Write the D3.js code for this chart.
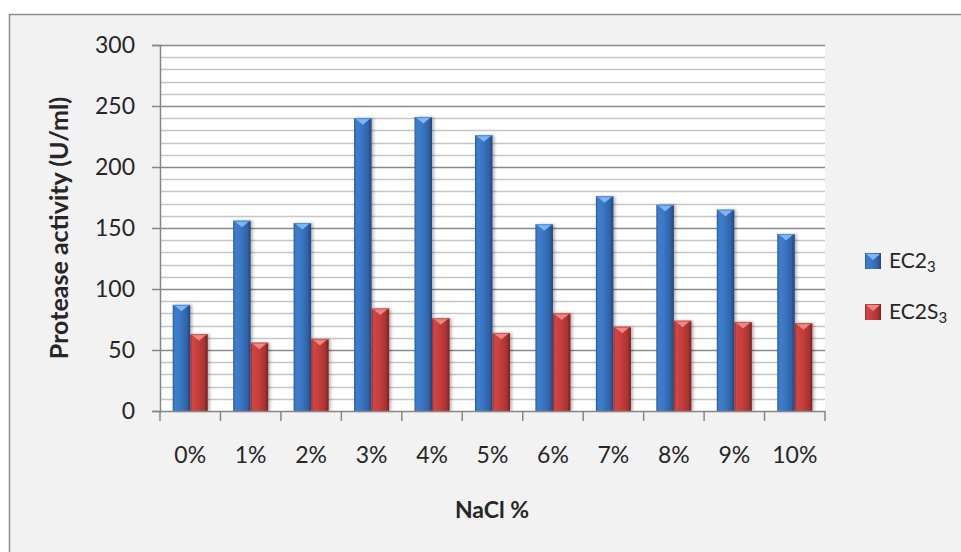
<!DOCTYPE html>
<html>
<head>
<meta charset="utf-8">
<script src="https://cdn.jsdelivr.net/npm/d3@7"></script>
<style>
  html, body { margin: 0; padding: 0; background: #ffffff; }
  svg { display: block; }
  text { font-family: Lato, "Open Sans", sans-serif; fill: #262626; }
</style>
</head>
<body>
<svg id="chart" width="961" height="552"></svg>
<script>
// NaCl concentrations on the x axis
const categories = ["0%", "1%", "2%", "3%", "4%", "5%", "6%", "7%", "8%", "9%", "10%"];
// Protease activity (U/ml) for each isolate
const ec23 = [87, 156, 154, 240, 241, 226, 153, 176, 169, 165, 145];
const ec2s3 = [63, 56, 59, 84, 76, 64, 80, 69, 74, 73, 72];
const seriesNames = [
  { base: "EC2", sub: "3" },
  { base: "EC2S", sub: "3" }
];
const yMajorTicks = [0, 50, 100, 150, 200, 250, 300];
const yMinorTicks = d3.range(0, 301, 10);

const svg = d3.select("#chart");
const W = 961, H = 552;
const plot = { left: 160, right: 825, top: 45, bottom: 411 };

const defs = svg.append("defs");
function barGradient(id, stops) {
  const g = defs.append("linearGradient").attr("id", id)
    .attr("x1", "0%").attr("x2", "100%").attr("y1", "0%").attr("y2", "0%");
  stops.forEach(([o, c]) => g.append("stop").attr("offset", o).attr("stop-color", c));
}
barGradient("gBlue", [["0%", "#2b5a98"], ["12%", "#3d7ccb"], ["40%", "#3b78c6"], ["80%", "#2f63a8"], ["100%", "#214679"]]);
barGradient("gRed", [["0%", "#992b2a"], ["12%", "#d04644"], ["40%", "#c83f3d"], ["80%", "#ac3332"], ["100%", "#7a2120"]]);
const shadow = defs.append("filter").attr("id", "shadow")
  .attr("x", "-30%").attr("y", "-10%").attr("width", "170%").attr("height", "130%");
shadow.append("feDropShadow").attr("dx", 2).attr("dy", 0).attr("stdDeviation", 1.5)
  .attr("flood-color", "#000").attr("flood-opacity", 0.28);

// chart background and frame
svg.append("rect").attr("x", 0).attr("y", 0).attr("width", W).attr("height", H).attr("fill", "#ffffff");
svg.append("rect").attr("x", 9.5).attr("y", 14.5).attr("width", W + 20).attr("height", H + 20)
  .attr("fill", "#f2f2f2").attr("stroke", "#8c8c8c").attr("stroke-width", 1.5);

// plot area
svg.append("rect").attr("x", plot.left).attr("y", plot.top)
  .attr("width", plot.right - plot.left).attr("height", plot.bottom - plot.top).attr("fill", "#ffffff");

const y = d3.scaleLinear().domain([0, 300]).range([plot.bottom, plot.top]);
const x = d3.scaleBand().domain(categories).range([plot.left, plot.right]).padding(0);
const groupW = x.bandwidth() * 0.58;
const x1 = d3.scaleBand().domain([0, 1]).range([0, groupW]).padding(0);

// minor gridlines
svg.append("g").selectAll("line").data(yMinorTicks.filter(v => v % 50 !== 0)).join("line")
  .attr("x1", plot.left).attr("x2", plot.right)
  .attr("y1", d => Math.round(y(d)) + 0.5).attr("y2", d => Math.round(y(d)) + 0.5)
  .attr("stroke", "#c6c6c6").attr("stroke-width", 1.5);
// major gridlines
svg.append("g").selectAll("line").data(yMajorTicks.filter(v => v > 0)).join("line")
  .attr("x1", plot.left).attr("x2", plot.right)
  .attr("y1", d => Math.round(y(d)) + 0.5).attr("y2", d => Math.round(y(d)) + 0.5)
  .attr("stroke", "#8a8a8a").attr("stroke-width", 1.5);

// bars
const series = [
  { values: ec23, fill: "url(#gBlue)", cap: "#7db6f5", capEdge: "#4f8fdc" },
  { values: ec2s3, fill: "url(#gRed)", cap: "#ee8683", capEdge: "#d75552" }
];
const barsG = svg.append("g");
series.forEach((s, si) => {
  const data = categories.map((c, i) => ({ c, v: s.values[i] }));
  const g = barsG.append("g");
  const bx = d => x(d.c) + (x.bandwidth() - groupW) / 2 + x1(si);
  const bw = x1.bandwidth();
  g.selectAll("rect").data(data).join("rect")
    .attr("x", bx).attr("y", d => y(d.v))
    .attr("width", bw).attr("height", d => y(0) - y(d.v))
    .attr("fill", s.fill).attr("filter", "url(#shadow)");
  g.selectAll("polygon").data(data).join("polygon")
    .attr("points", d => {
      const x0 = bx(d) + 1.5, x2 = bx(d) + bw - 1.5, y0 = y(d.v) + 0.5;
      return `${x0},${y0} ${x2},${y0} ${(x0 + x2) / 2},${y0 + 6}`;
    })
    .attr("fill", s.cap);
  g.selectAll("line").data(data).join("line")
    .attr("x1", bx).attr("x2", d => bx(d) + bw)
    .attr("y1", d => y(d.v) + 0.5).attr("y2", d => y(d.v) + 0.5)
    .attr("stroke", s.capEdge).attr("stroke-width", 1);
});

// y axis
const yAxis = d3.axisLeft(y).tickValues(yMajorTicks).tickSize(8).tickPadding(17);
const gy = svg.append("g").attr("transform", `translate(${plot.left},0)`).call(yAxis);
gy.select(".domain").attr("stroke", "#868686").attr("stroke-width", 1.5);
gy.selectAll(".tick line").attr("stroke", "#868686").attr("stroke-width", 1.5);
gy.selectAll(".tick text").attr("font-size", 23).attr("font-family", "Lato, sans-serif").attr("fill", "#262626");

// x axis: ticks at category boundaries, labels at centers
const gx = svg.append("g").attr("transform", `translate(0,${plot.bottom})`);
gx.append("line").attr("x1", plot.left).attr("x2", plot.right).attr("y1", 0.5).attr("y2", 0.5)
  .attr("stroke", "#868686").attr("stroke-width", 1.5);
const boundaries = categories.map(c => x(c)).concat([plot.right]);
gx.selectAll("line.tk").data(boundaries).join("line").attr("class", "tk")
  .attr("x1", d => d).attr("x2", d => d).attr("y1", 0).attr("y2", 10)
  .attr("stroke", "#868686").attr("stroke-width", 1.5);
gx.selectAll("text").data(categories).join("text")
  .attr("x", d => x(d) + x.bandwidth() / 2).attr("y", 52)
  .attr("text-anchor", "middle").attr("font-size", 23).text(d => d);

// axis titles
svg.append("text").attr("x", 492).attr("y", 518).attr("text-anchor", "middle")
  .attr("font-size", 23).attr("font-weight", "bold").text("NaCl %");
svg.append("text").attr("transform", "translate(68,228) rotate(-90)").attr("text-anchor", "middle")
  .attr("font-size", 25).attr("font-weight", "bold").text("Protease activity (U/ml)");

// legend
const legendColors = ["url(#gBlue)", "url(#gRed)"];
const legendCaps = ["#7db6f5", "#ee8683"];
const legend = svg.append("g");
seriesNames.forEach((n, i) => {
  const ly = 261 + i * 51;
  legend.append("rect").attr("x", 865).attr("y", ly - 8).attr("width", 16).attr("height", 16)
    .attr("fill", legendColors[i]);
  legend.append("polygon")
    .attr("points", `${866},${ly - 7} ${880},${ly - 7} ${873},${ly - 1}`)
    .attr("fill", legendCaps[i]);
  const t = legend.append("text").attr("x", 889).attr("y", ly + 7).attr("font-size", 21);
  t.append("tspan").text(n.base);
  t.append("tspan").attr("font-size", 15).attr("dy", 4).text(n.sub);
});
</script>
</body>
</html>
